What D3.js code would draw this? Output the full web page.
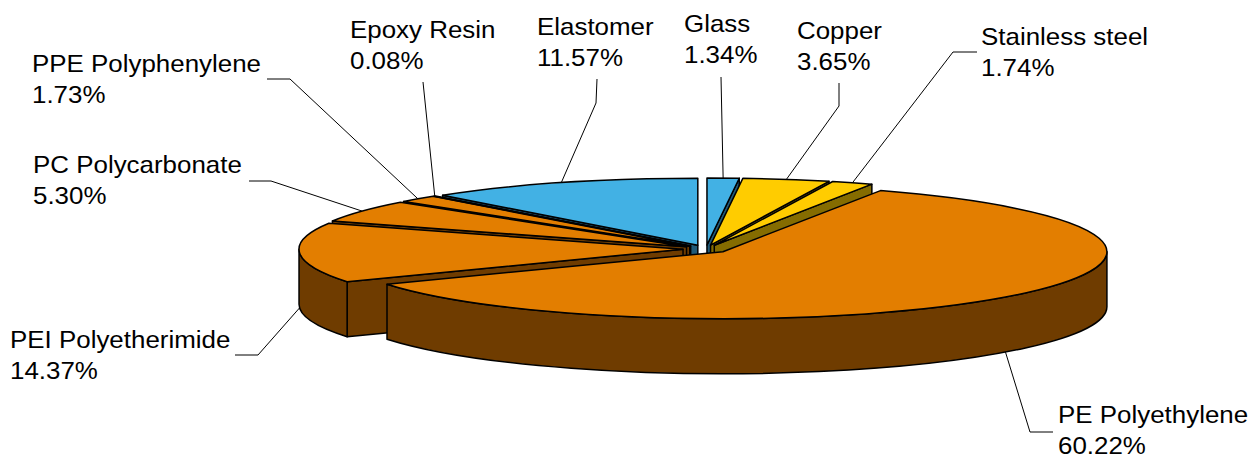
<!DOCTYPE html>
<html>
<head>
<meta charset="utf-8">
<script src="https://cdn.jsdelivr.net/npm/d3@7"></script>
<style>
  body { margin: 0; background: #fff; }
  svg { display: block; }
  .lbl { font-family: "Liberation Sans", Arial, sans-serif; font-size: 24px; fill: #000; }
</style>
</head>
<body>
<div id="chart"></div>
<script>
// data, clockwise from 12 o'clock
const materials = ["Glass", "Copper", "Stainless steel", "PE Polyethylene", "PEI Polyetherimide",
                   "PC Polycarbonate", "PPE Polyphenylene", "Epoxy Resin", "Elastomer"];
const shares = [1.34, 3.65, 1.74, 60.22, 14.37, 5.30, 1.73, 0.08, 11.57];
const groups = ["mineral", "metal", "metal", "plastic", "plastic", "plastic", "plastic", "plastic", "mineral"];

const topColor = d3.scaleOrdinal().domain(["mineral", "metal", "plastic"]).range(["#42B1E4", "#FFCC00", "#E37E00"]);
const sideColor = d3.scaleOrdinal().domain(["mineral", "metal", "plastic"]).range(["#215A78", "#856C00", "#6F3C00"]);

// hand placed labels (Excel style), x / baseline of first line + leader elbow
const labelLayout = {
  "Glass":              { x: 684, y: 32,  leader: [[721, 77]] },
  "Copper":             { x: 797, y: 39,  leader: [[839, 83], [839, 106]] },
  "Stainless steel":    { x: 981, y: 45,  leader: [[977, 52], [953, 52]] },
  "PE Polyethylene":    { x: 1058, y: 423, leader: [[1053, 432], [1030, 432]] },
  "PEI Polyetherimide": { x: 10,  y: 348, leader: [[235, 355], [258, 355]] },
  "PC Polycarbonate":   { x: 33,  y: 173, leader: [[249, 181], [271, 181]] },
  "PPE Polyphenylene":  { x: 32,  y: 72,  leader: [[267, 79], [290, 79]] },
  "Epoxy Resin":        { x: 350, y: 38,  leader: [[423, 82]] },
  "Elastomer":          { x: 537, y: 35,  leader: [[597, 79], [596, 103]] }
};

const width = 1258, height = 459;
const cx = 706, cy = 249, rx = 384, ry = 67, depth = 55, explode = 23;

const svg = d3.select("#chart").append("svg")
    .attr("width", width)
    .attr("height", height);

const data = materials.map(function(m, i) { return { name: m, value: shares[i], group: groups[i] }; });

const arcs = d3.pie().sort(null).value(function(d) { return d.value; })(data);
arcs.forEach(function(d) { d.mid = (d.startAngle + d.endAngle) / 2; });

// projected point of a slice: angle a on the rim (null = centre), z = 0 top / depth bottom
function pt(d, a, z) {
  let x = cx + explode * Math.sin(d.mid);
  let y = cy - explode * (ry / rx) * Math.cos(d.mid) + z;
  if (a !== null) {
    x += rx * Math.sin(a);
    y -= ry * Math.cos(a);
  }
  return [x, y];
}

function topPath(d) {
  const c = pt(d, null, 0), p0 = pt(d, d.startAngle, 0), p1 = pt(d, d.endAngle, 0);
  const large = (d.endAngle - d.startAngle) > Math.PI ? 1 : 0;
  return "M" + c + "L" + p0 + "A" + rx + "," + ry + " 0 " + large + " 1 " + p1 + "Z";
}

function wallPath(d, a) {
  const c0 = pt(d, null, 0), p0 = pt(d, a, 0), p1 = pt(d, a, depth), c1 = pt(d, null, depth);
  return "M" + c0 + "L" + p0 + "L" + p1 + "L" + c1 + "Z";
}

function outerPath(d, a0, a1) {
  const t0 = pt(d, a0, 0), t1 = pt(d, a1, 0), b0 = pt(d, a0, depth), b1 = pt(d, a1, depth);
  return "M" + t0 + "A" + rx + "," + ry + " 0 0 1 " + t1 + "L" + b1 +
         "A" + rx + "," + ry + " 0 0 0 " + b0 + "Z";
}

// collect the visible side faces, then paint back to front
const faces = [];
arcs.forEach(function(d) {
  const col = sideColor(d.data.group);
  if (Math.sin(d.startAngle) < -1e-6) {
    faces.push({ path: wallPath(d, d.startAngle), fill: col,
                 key: (pt(d, null, 0)[1] + pt(d, d.startAngle, 0)[1]) / 2 });
  }
  if (Math.sin(d.endAngle) > 1e-6) {
    faces.push({ path: wallPath(d, d.endAngle), fill: col,
                 key: (pt(d, null, 0)[1] + pt(d, d.endAngle, 0)[1]) / 2 });
  }
  const a0 = Math.max(d.startAngle, Math.PI / 2), a1 = Math.min(d.endAngle, 3 * Math.PI / 2);
  if (a1 > a0) {
    faces.push({ path: outerPath(d, a0, a1), fill: col,
                 key: pt(d, (a0 + a1) / 2, 0)[1] });
  }
});
faces.sort(function(a, b) { return a.key - b.key; });

svg.append("g").selectAll("path")
  .data(faces)
  .join("path")
  .attr("d", function(f) { return f.path; })
  .attr("fill", function(f) { return f.fill; })
  .attr("stroke", "#000")
  .attr("stroke-width", 1.5)
  .attr("stroke-linejoin", "round");

svg.append("g").selectAll("path")
  .data(arcs)
  .join("path")
  .attr("d", topPath)
  .attr("fill", function(d) { return topColor(d.data.group); })
  .attr("stroke", "#000")
  .attr("stroke-width", 1.5)
  .attr("stroke-linejoin", "round");

// leader lines: end on the rim at the slice middle (top edge at the back, bottom edge at the front)
const line = d3.line();
svg.append("g").selectAll("path")
  .data(arcs)
  .join("path")
  .attr("d", function(d) {
    const lay = labelLayout[d.data.name];
    const anchor = Math.cos(d.mid) >= 0 ? pt(d, d.mid, 0) : pt(d, d.mid, depth);
    return line(lay.leader.concat([anchor]));
  })
  .attr("fill", "none")
  .attr("stroke", "#000")
  .attr("stroke-width", 1);

const labels = svg.append("g").selectAll("text")
  .data(arcs)
  .join("text")
  .attr("class", "lbl")
  .attr("transform", function(d) {
    const lay = labelLayout[d.data.name];
    return "translate(" + lay.x + "," + lay.y + ") scale(1.08,1)";
  });

labels.append("tspan").attr("x", 0).attr("y", 0).text(function(d) { return d.data.name; });
labels.append("tspan").attr("x", 0).attr("y", 31).text(function(d) { return d.data.value.toFixed(2) + "%"; });
</script>
</body>
</html>
